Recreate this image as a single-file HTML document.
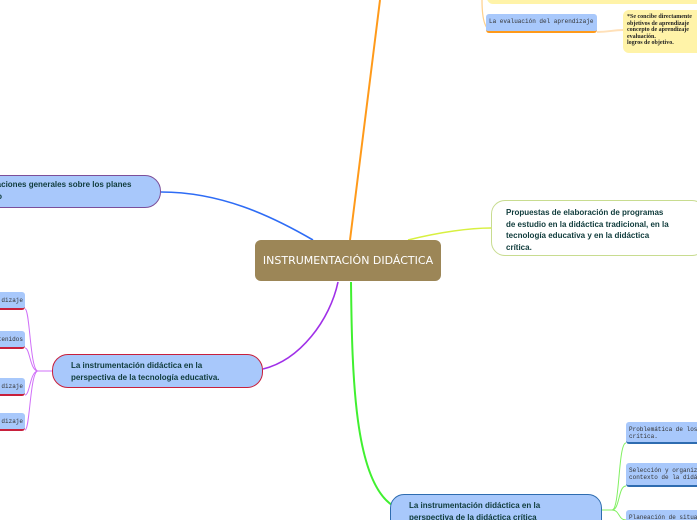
<!DOCTYPE html>
<html><head><meta charset="utf-8"><style>
html,body{margin:0;width:697px;height:520px;overflow:hidden;background:#fff;position:relative;font-family:"Liberation Sans",sans-serif}
.a{position:absolute;box-sizing:border-box}
.mono{font-family:"Liberation Mono",monospace;font-size:6px;color:#333;line-height:7px}
.b{font-weight:bold;font-size:8px;color:#0f3b3b;line-height:12px;white-space:nowrap}
.sm{background:#a8c8fb;border-radius:3px;border-bottom:2px solid #c8203c}
</style></head><body>
<svg class="a" style="left:0;top:0" width="697" height="520">
<g fill="none">
<path d="M350 240 L380 0" stroke="#ff9a1a" stroke-width="2"/>
<path d="M482 0 C482 20 485 32 495 32" stroke="#ffd08a" stroke-width="1.2"/>
<path d="M597 32 C610 32 612 30 623 30" stroke="#ffe0b8" stroke-width="2"/>
<path d="M313 240 C270 215 220 192 161 192" stroke="#2e6cf5" stroke-width="1.6"/>
<path d="M408 240 C440 232 470 228 491 228" stroke="#d8f040" stroke-width="1.5"/>
<path d="M338 282 C330 320 300 360 263 369" stroke="#a030e8" stroke-width="1.6"/>
<path d="M351 282 C352 380 355 480 392 505" stroke="#40f030" stroke-width="2"/>
<path d="M52 371 L38 371 M38 371 C30 371 30 309 25 309 M38 371 C30 371 30 348 25 348 M38 371 C30 371 30 395 25 395 M38 371 C30 371 30 430 25 430" stroke="#d070f8" stroke-width="1"/>
<path d="M602 510 L612 510 M612 510 C620 510 618 443 626 443 M612 510 C620 510 618 486 626 486 M612 510 C620 510 618 520 626 520" stroke="#80f060" stroke-width="1"/>
</g></svg>
<div class="a" style="left:487px;top:-10px;width:215px;height:14px;background:#fff3a8;border-radius:6px"></div>
<div class="a sm mono" style="left:486px;top:14px;width:111px;height:19px;border-bottom-color:#ff9a1a;padding:4px 3px;white-space:nowrap">La evaluación del aprendizaje</div>
<div class="a mono" style="left:623px;top:10px;width:90px;height:43px;background:#fff3a8;border-radius:6px;padding:4px 4px;font-size:6px;line-height:6.5px;color:#222;white-space:nowrap;font-family:'Liberation Serif',serif;font-weight:bold">*Se concibe directamente<br>objetivos de aprendizaje<br>concepto de aprendizaje<br>evaluación.<br>logros de objetivo.</div>
<div class="a" style="left:-20px;top:175px;width:181px;height:33px;background:#a8c8fb;border:1.5px solid #7c4f9a;border-radius:16px"></div>
<div class="a b" style="left:-38px;top:179px">Consideraciones generales sobre los planes<br>de estudio</div>
<div class="a" style="left:255px;top:240px;width:186px;height:41px;background:#9c8657;border-radius:6px;color:#fff;font-size:11px;line-height:41px;text-align:center;white-space:nowrap;font-family:'DejaVu Sans',sans-serif">INSTRUMENTACIÓN DIDÁCTICA</div>
<div class="a b" style="left:491px;top:200px;width:215px;height:56px;background:#fff;border:1.5px solid #c8dc90;border-radius:14px;padding:6px 0 0 14px;line-height:11.5px">Propuestas de elaboración de programas<br>de estudio en la didáctica tradicional, en la<br>tecnología educativa y en la didáctica<br>crítica.</div>
<div class="a b" style="left:52px;top:354px;width:211px;height:34px;background:#a8c8fb;border:1.5px solid #c8203c;border-radius:16px;padding:5px 0 0 18px">La instrumentación didáctica en la<br>perspectiva de la tecnología educativa.</div>
<div class="a sm mono" style="left:-10px;top:292px;width:35px;height:18px;padding:5px 2px 0 0;text-align:right">dizaje</div>
<div class="a sm mono" style="left:-10px;top:331px;width:35px;height:18px;padding:5px 2px 0 0;text-align:right">tenidos</div>
<div class="a sm mono" style="left:-10px;top:378px;width:35px;height:18px;padding:5px 2px 0 0;text-align:right">dizaje</div>
<div class="a sm mono" style="left:-10px;top:413px;width:35px;height:18px;padding:5px 2px 0 0;text-align:right">dizaje</div>
<div class="a b" style="left:390px;top:494px;width:212px;height:40px;background:#a8c8fb;border:1.5px solid #2e6cb0;border-radius:14px;padding:5px 0 0 18px">La instrumentación didáctica en la<br>perspectiva de la didáctica crítica</div>
<div class="a sm mono" style="left:626px;top:422px;width:80px;height:22px;border-bottom-color:#2e6cb0;padding:4px 3px;white-space:nowrap">Problemática de los<br>crítica.</div>
<div class="a sm mono" style="left:626px;top:463px;width:80px;height:24px;border-bottom-color:#2e6cb0;padding:4px 3px;white-space:nowrap">Selección y organiza<br>contexto de la didá</div>
<div class="a sm mono" style="left:626px;top:510px;width:80px;height:20px;padding:4px 3px;white-space:nowrap;border-bottom:none">Planeación de situa</div>
</body></html>
